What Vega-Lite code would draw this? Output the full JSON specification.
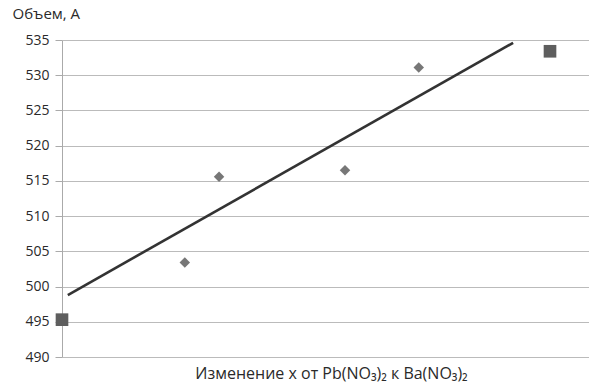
{
  "$schema": "https://vega.github.io/schema/vega-lite/v6.json",
  "autosize": "none",
  "width": 527,
  "height": 317,
  "padding": {"left": 62, "top": 40, "right": 0, "bottom": 28},
  "background": "white",
  "config": {"view": {"stroke": null}, "font": "Open Sans"},
  "datasets": {
    "pts": [
      {"x": 0.0, "y": 495.3, "kind": "end"},
      {"x": 0.233, "y": 503.4, "kind": "mid"},
      {"x": 0.298, "y": 515.6, "kind": "mid"},
      {"x": 0.537, "y": 516.5, "kind": "mid"},
      {"x": 0.677, "y": 531.1, "kind": "mid"},
      {"x": 0.926, "y": 533.4, "kind": "end"}
    ],
    "trend": [
      {"x": 0.011, "y": 498.8},
      {"x": 0.856, "y": 534.6}
    ]
  },
  "encoding": {
    "x": {"field": "x", "type": "quantitative", "scale": {"domain": [0, 1], "nice": false},
      "axis": {"title": "Изменение x от Pb(NO₃)₂ к Ba(NO₃)₂", "labels": false, "ticks": false, "grid": false, "domain": false,
        "titleFont": "Open Sans", "titleFontSize": 16, "titleFontWeight": "normal", "titleColor": "#2a2a2a",
        "titleX": 269, "titleY": 16, "titleBaseline": "middle", "titleAlign": "center"}},
    "y": {"field": "y", "type": "quantitative", "scale": {"domain": [490, 535], "nice": false, "zero": false},
      "axis": {"title": "Объем, А", "values": [490, 495, 500, 505, 510, 515, 520, 525, 530, 535], "labelOverlap": false,
        "titleAngle": 0, "titleX": -50, "titleY": -27, "titleAlign": "left", "titleBaseline": "middle",
        "titleFont": "Open Sans", "titleFontSize": 15, "titleFontWeight": "normal", "titleColor": "#2a2a2a",
        "labelFont": "Open Sans", "labelFontSize": 14, "labelColor": "#2a2a2a", "labelPadding": 6,
        "tickSize": 7, "tickColor": "#aaaaaa", "domainColor": "#aaaaaa", "gridColor": "#bbbbbb", "gridWidth": 1.2}}
  },
  "layer": [
    {
      "data": {"name": "trend"},
      "mark": {"type": "line", "color": "#333333", "strokeWidth": 2.6, "clip": false}
    },
    {
      "data": {"name": "pts"},
      "mark": {"type": "point", "filled": true, "opacity": 1, "clip": false},
      "encoding": {
        "shape": {"field": "kind", "type": "nominal", "scale": {"domain": ["end", "mid"], "range": ["square", "diamond"]}, "legend": null},
        "size": {"field": "kind", "type": "nominal", "scale": {"domain": ["end", "mid"], "range": [160, 110]}, "legend": null},
        "color": {"field": "kind", "type": "nominal", "scale": {"domain": ["end", "mid"], "range": ["#5e5e5e", "#777777"]}, "legend": null}
      }
    }
  ]
}
